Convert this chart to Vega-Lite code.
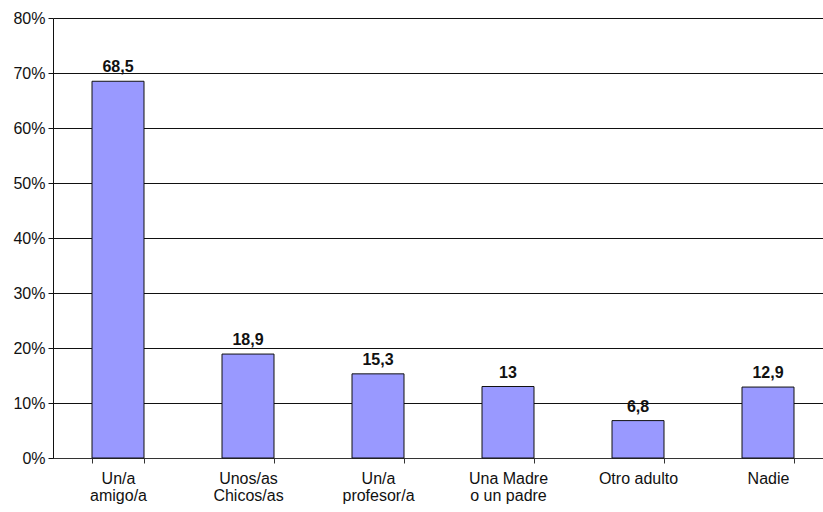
{
  "$schema": "https://vega.github.io/schema/vega-lite/v6.json",
  "width": 780,
  "height": 440,
  "autosize": "none",
  "padding": {"left": 53, "top": 18, "right": 0, "bottom": 54},
  "background": "white",
  "config": {
    "view": {"stroke": null},
    "locale": {"number": {"decimal": ",", "thousands": ".", "grouping": [3], "currency": ["", " €"]}},
    "font": "Liberation Sans"
  },
  "data": {
    "values": [
      {"cat": "Un/a|amigo/a", "value": 68.5},
      {"cat": "Unos/as|Chicos/as", "value": 18.9},
      {"cat": "Un/a|profesor/a", "value": 15.3},
      {"cat": "Una Madre|o un padre", "value": 13},
      {"cat": "Otro adulto", "value": 6.8},
      {"cat": "Nadie", "value": 12.9}
    ]
  },
  "encoding": {
    "x": {
      "field": "cat",
      "type": "nominal",
      "sort": null,
      "scale": {"paddingInner": 0.6, "paddingOuter": 0.3},
      "axis": {
        "title": null,
        "labelAngle": 0,
        "labelExpr": "isValid(datum.value) ? split(datum.value, '|') : ''",
        "labelFontSize": 16,
        "labelColor": "#111",
        "labelLineHeight": 17,
        "labelPadding": 7,
        "tickBand": "extent",
        "tickSize": 5,
        "tickColor": "#333",
        "domainColor": "#333",
        "labelFont": "Liberation Sans"
      }
    },
    "y": {
      "field": "value",
      "type": "quantitative",
      "scale": {"domain": [0, 80]},
      "axis": {
        "title": null,
        "values": [0, 10, 20, 30, 40, 50, 60, 70, 80],
        "labelExpr": "datum.value + '%'",
        "labelFontSize": 16,
        "labelColor": "#111",
        "labelPadding": 3,
        "tickSize": 5,
        "tickColor": "#111",
        "domainColor": "#111",
        "gridColor": "#111",
        "gridOpacity": 1,
        "labelFont": "Liberation Sans"
      }
    }
  },
  "layer": [
    {
      "mark": {"type": "bar", "fill": "#9999ff", "stroke": "#111", "strokeWidth": 1}
    },
    {
      "mark": {"type": "text", "baseline": "bottom", "dy": -6, "fontWeight": "bold", "fontSize": 16, "color": "#111", "font": "Liberation Sans"},
      "encoding": {"text": {"field": "value", "type": "quantitative"}}
    }
  ]
}
